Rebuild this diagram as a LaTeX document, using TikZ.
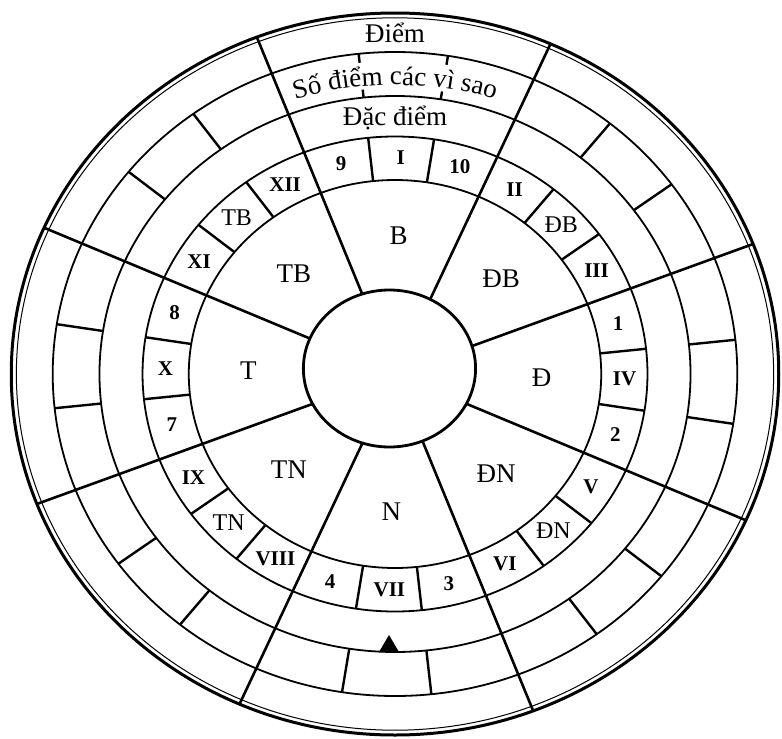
\documentclass[tikz,border=0pt]{standalone}
\usepackage{fontspec}
\setmainfont{Liberation Serif}
\usetikzlibrary{decorations.text}
\begin{document}
\begin{tikzpicture}[x=1pt,y=-1pt,
  ringline/.style={line width=1.8pt},
  spoke/.style={line width=2.6pt},
  divider/.style={line width=2.4pt},
  sectorlab/.style={font=\fontsize{27}{27}\selectfont, inner sep=0pt},
  numlab/.style={font=\bfseries\fontsize{21}{21}\selectfont, inner sep=0pt},
  celllab/.style={font=\fontsize{24}{24}\selectfont, inner sep=0pt},
  bandlab/.style={font=\fontsize{27}{27}\selectfont, inner sep=0pt, anchor=base},
]
\useasboundingbox (0,0) rectangle (782,739);
\begin{scope}[shift={(395,374)}, yscale=-1, xscale=1.063]
  \coordinate (O) at (0,0);
  % spokes
  \foreach \k in {0,...,7}
    \draw[spoke] (O) -- ({22.5+45*\k-1.4}:360);
  % rings
  \draw[line width=3pt] (O) circle (361);
  \draw[line width=1pt] (O) circle (356.2);
  \foreach \r in {322,278,237.5,194}
    \draw[ringline] (O) circle (\r);
  % dividers in the number ring
  \foreach \k in {0,...,7}
    \foreach \d in {37.5,52.5}
      \draw[divider] ({45*\k+\d-1.4}:194) -- ({45*\k+\d-1.4}:237.5);
  % dividers in the star-points band
  \foreach \k in {0,2,3,...,7}
    \foreach \d in {37.5,52.5}
      \draw[divider] ({45*\k+\d-1.4}:278) -- ({45*\k+\d-1.4}:322);
  % stubs in the top sector
  \foreach \d in {81.1,96.1} {
    \draw[divider] (\d:278) -- (\d:286);
    \draw[divider] (\d:313) -- (\d:322);
  }
  % inner circle
  \filldraw[fill=white, line width=2.8pt] (-5.2,5.5) ellipse [x radius=81, y radius=78.5];
  % sector labels
  \foreach \lab/\a [count=\i] in {B/88.6, ĐB/43.6, Đ/-1.4, ĐN/-46.4, N/-91.4, TN/-136.4, T/178.6, TB/133.6}
    \node[sectorlab] (sec\i) at (\a:138) {\lab};
  % number ring labels
  \foreach \lab/\a [count=\i] in {IV/-1.4, 1/13.6, III/28.6, II/58.6, 10/73.6, I/88.6, 9/103.6, XII/118.6, XI/148.6, 8/163.6, X/178.6, 7/193.6, IX/208.6, VIII/238.6, 4/253.6, VII/268.6, 3/283.6, VI/298.6, V/328.6, 2/343.6}
    \node[numlab] (num\i) at (\a:216) {\lab};
  \foreach \lab/\a [count=\i] in {ĐB/43.6, TB/133.6, TN/223.6, ĐN/313.6}
    \node[celllab] (cell\i) at (\a:216) {\lab};
\end{scope}
% band labels in the top sector
\node[bandlab] (diem) at (395,42) {Điểm};
\node[bandlab] (dacdiem) at (395,125) {Đặc điểm};
\path[decorate, decoration={text along path,
   text={|\fontsize{27}{27}\selectfont|Số điểm các vì sao}, text align=center}]
   ({395+360*cos(-112)}, {445+360*sin(-112)}) arc[start angle=-112, end angle=-68, radius=360];
% marker triangle
\fill (379,652) -- (399,652) -- (389,635) -- cycle;
\end{tikzpicture}
\end{document}
